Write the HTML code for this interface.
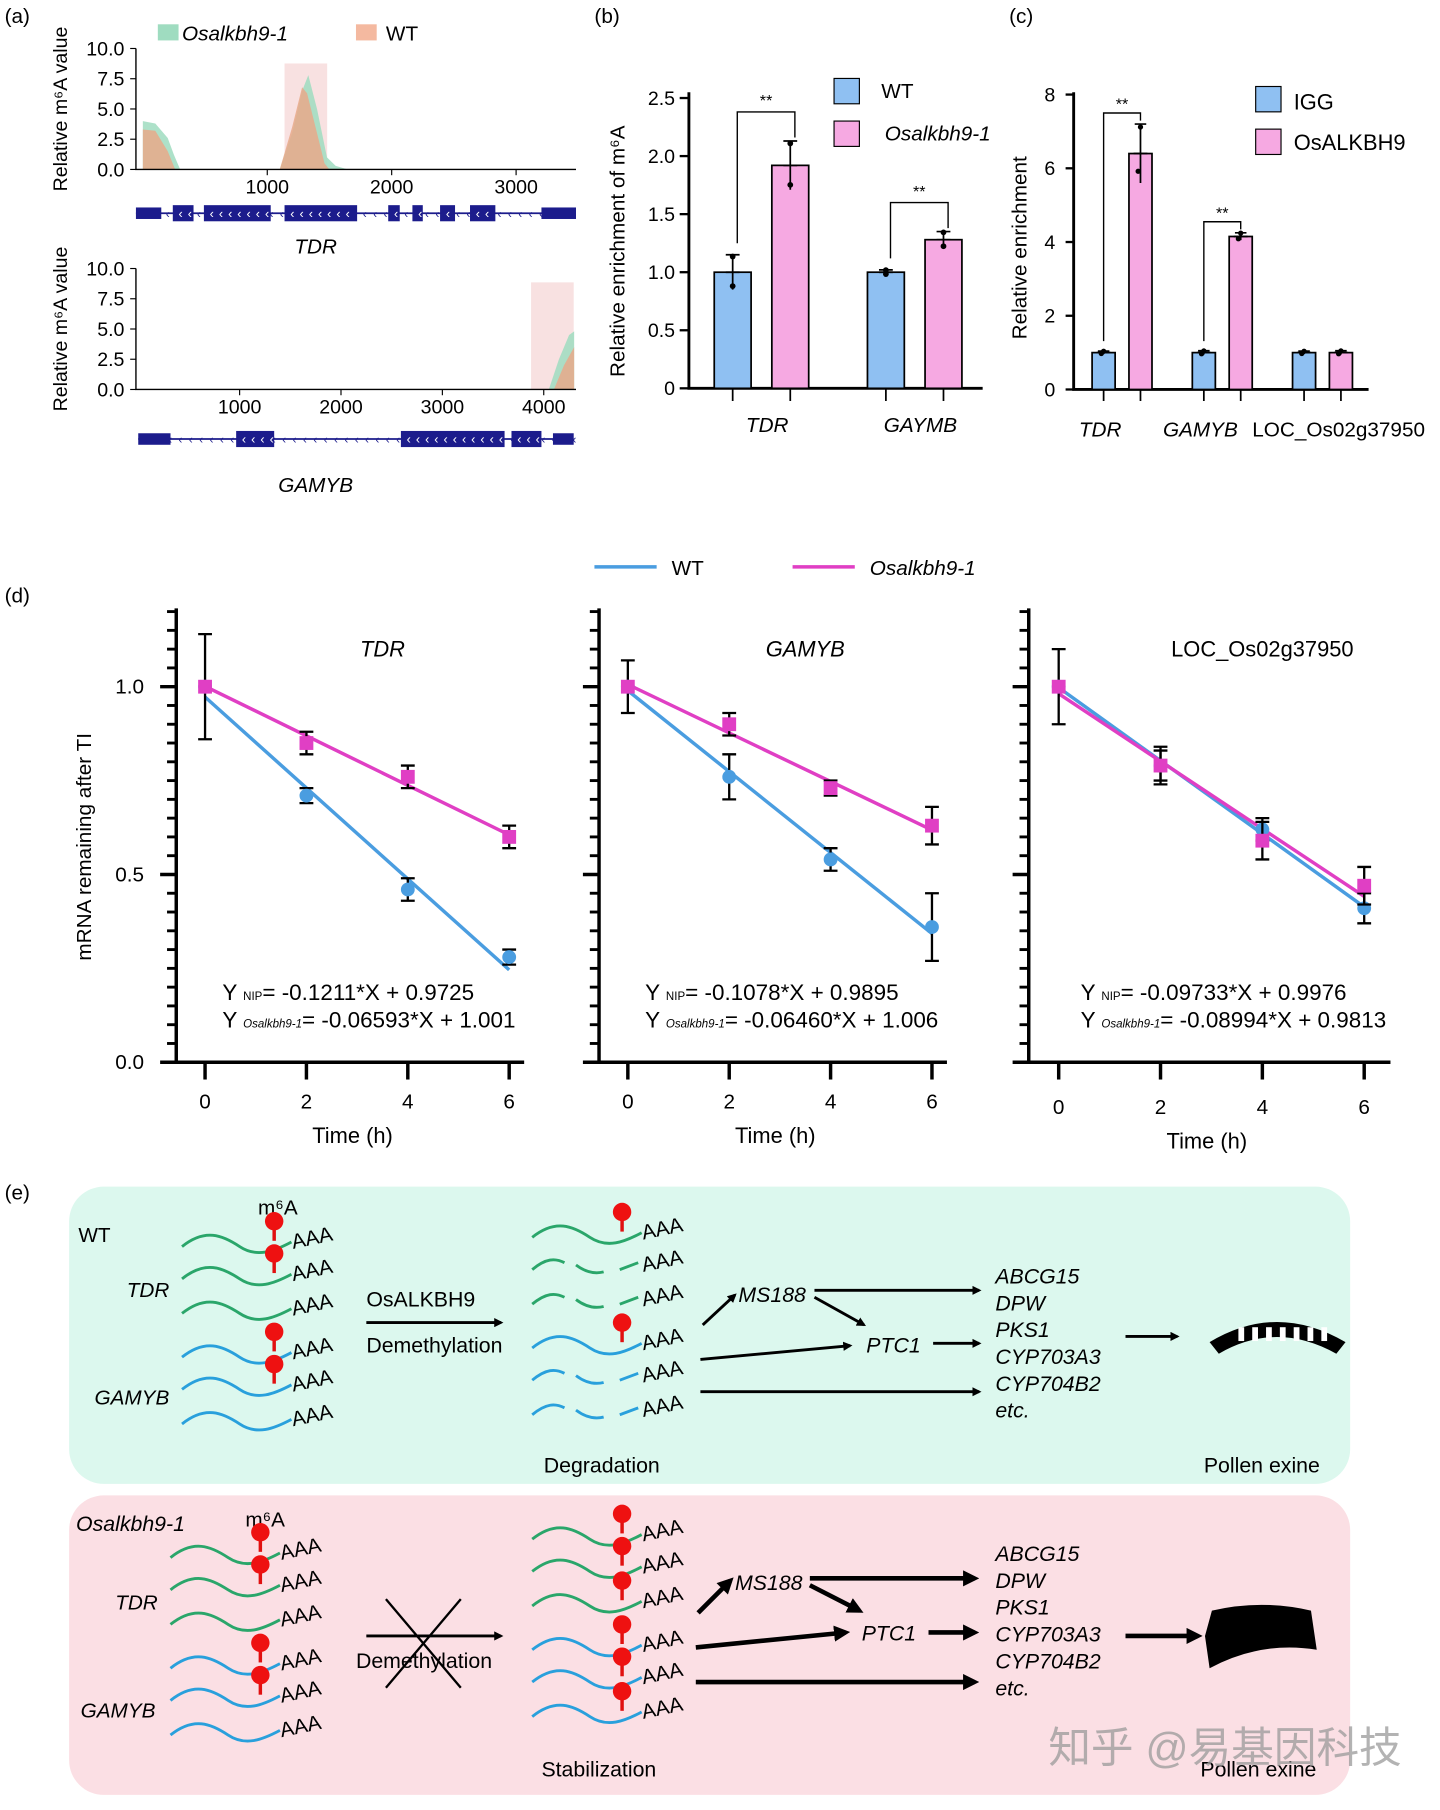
<!DOCTYPE html>
<html><head><meta charset="utf-8">
<style>
html,body{margin:0;padding:0;background:#fff;}
svg{display:block;font-family:"Liberation Sans","Noto Sans CJK SC",sans-serif;}
.it{font-style:italic;}
</style></head>
<body>
<svg id="fig" width="1440" height="1810" viewBox="0 0 1250 1571" xmlns="http://www.w3.org/2000/svg">
<g id="pa"></g>
<g id="pb"></g>
<g id="pc"></g>
<g id="pd"></g>
<g id="pe"></g>
</svg>
<script>
// ---------- data ----------
const tdrMut = [[0,4.0],[100,3.8],[200,2.6],[250,1.2],[300,0],[1100,0],[1200,3],[1280,6.5],[1330,7.8],[1400,5],[1480,1],[1550,0.3],[1650,0]];
const tdrWT  = [[0,3.3],[100,3.2],[200,1.5],[260,0],[1100,0],[1200,3.5],[1280,6.8],[1320,6.3],[1400,3],[1460,0.5],[1500,0]];
const gamMut = [[4050,0],[4150,2.5],[4250,4.5],[4300,4.8]];
const gamWT  = [[4100,0],[4200,2.0],[4300,3.5]];
const aYTicks = ["10.0","7.5","5.0","2.5","0.0"];
const aTopXTicks = [1000,2000,3000];
const aBotXTicks = [1000,2000,3000,4000];
const bGenes = ["TDR","GAYMB"];
const bWT = [1.0,1.0];
const bMut = [1.92,1.28];
const bWTerr = [0.15,0.02];
const bMutErr = [0.21,0.07];
const bYTicks = [0,0.5,1.0,1.5,2.0,2.5];
const cGenes = ["TDR","GAMYB","LOC_Os02g37950"];
const cIGG = [1.0,1.0,1.0];
const cOs = [6.4,4.15,1.0];
const cIGGerr = [0.04,0.05,0.04];
const cOsErr = [0.8,0.1,0.05];
const cYTicks = [0,2,4,6,8];
const dTitles = ["TDR","GAMYB","LOC_Os02g37950"];
const dTimes = [0,2,4,6];
const dWT = [[1.0,0.71,0.46,0.28],[1.0,0.76,0.54,0.36],[1.0,0.79,0.62,0.41]];
const dWTerr = [[0.14,0.02,0.03,0.02],[0.07,0.06,0.03,0.09],[0.1,0.05,0.03,0.04]];
const dMut = [[1.0,0.85,0.76,0.60],[1.0,0.90,0.73,0.63],[1.0,0.79,0.59,0.47]];
const dMutErr = [[0.0,0.03,0.03,0.03],[0.0,0.03,0.02,0.05],[0.0,0.04,0.05,0.05]];
const dWTslope = [-0.1211,-0.1078,-0.09733];
const dWTint = [0.9725,0.9895,0.9976];
const dMutSlope = [-0.06593,-0.06460,-0.08994];
const dMutInt = [1.001,1.006,0.9813];
const dWTeq = ["-0.1211*X + 0.9725","-0.1078*X + 0.9895","-0.09733*X + 0.9976"];
const dMutEq = ["-0.06593*X + 1.001","-0.06460*X + 1.006","-0.08994*X + 0.9813"];
const dYTicks = ["0.0","0.5","1.0"];

const NS="http://www.w3.org/2000/svg";
function el(parent,tag,attrs,text){const e=document.createElementNS(NS,tag);for(const k in attrs)e.setAttribute(k,attrs[k]);if(text!==undefined)e.textContent=text;parent.appendChild(e);return e;}
const BLUE="#8fc0f2",PINK="#f6a9e2",LBLUE="#4a9de0",LPINK="#e03fc4";

// ---------- panel a ----------
(function(){
const g=document.getElementById('pa');
let t=el(g,'text',{x:4,y:20,'font-size':18},'(a)');


let r=el(g,'rect',{x:137,y:21,width:18,height:14,fill:'#9fdcc0'});


t=el(g,'text',{x:158,y:35,'font-size':18,class:'it'},'Osalkbh9-1');


r=el(g,'rect',{x:309,y:21,width:18,height:14,fill:'#f4b9a0'});


t=el(g,'text',{x:335,y:35,'font-size':18},'WT');



function track(y0,y1,x0,pxPer,xTicks,mut,wt,hl,name){
  const yv=v=>y1-(y1-y0)*v/10;
  const xv=p=>x0+p*pxPer;
  const hr=el(g,'rect',{x:hl[0],y:hl[1],width:hl[2]-hl[0],height:y1-hl[1],fill:'#f8e1e1'});
  
  
  function area(d,fill,n){
    let s='M'+xv(d[0][0])+','+y1;
    d.forEach(p=>{s+=' L'+xv(p[0])+','+yv(p[1]);});
    s+=' L'+xv(d[d.length-1][0])+','+y1+'Z';
    const a=el(g,'path',{d:s,fill:fill,'fill-opacity':0.85});
    
    
  }
  area(mut,'#9fdcc0',name+'-mutant-area');
  area(wt,'#e8a98a',name+'-wt-area');
  const ax=el(g,'path',{d:`M118,${y0} L118,${y1} L500,${y1}`,fill:'none',stroke:'#000','stroke-width':1.2});
  
  
  aYTicks.forEach((lab,i)=>{
    const y=y0+(y1-y0)*i/4;
    el(g,'line',{x1:113,x2:118,y1:y,y2:y,stroke:'#000'});
    const tt=el(g,'text',{x:108,y:y+6,'font-size':17,'text-anchor':'end'},lab);
    
    
  });
  xTicks.forEach(v=>{
    const x=xv(v);
    el(g,'line',{x1:x,x2:x,y1:y1,y2:y1+5,stroke:'#000'});
    const tt=el(g,'text',{x:x,y:y1+21,'font-size':17,'text-anchor':'middle'},v);
    
    
  });
  const yl=el(g,'text',{x:0,y:0,'font-size':17,'text-anchor':'middle',transform:`translate(58,${(y0+y1)/2}) rotate(-90)`},'Relative m⁶A value');
  
  
}
track(42,147,124,0.108,aTopXTicks,tdrMut,tdrWT,[247,55,284],'tdr-track');
track(233,338,120,0.088,aBotXTicks,gamMut,gamWT,[461,245,498],'gamyb-track');

function gene(y,ends,exons,label,ly,name){
  const gg=el(g,'g',{});
  
  
  el(gg,'line',{x1:ends[0][0],x2:ends[1][1],y1:y,y2:y,stroke:'#1c1c8c','stroke-width':1.5});
  for(let x=ends[0][0]+8;x<ends[1][1];x+=9)el(gg,'text',{x:x,y:y+4,'font-size':10,fill:'#1c1c8c'},'‹');
  ends.forEach(e=>el(gg,'rect',{x:e[0],y:y-5,width:e[1]-e[0],height:10,fill:'#1c1c8c'}));
  exons.forEach(e=>{
    el(gg,'rect',{x:e[0],y:y-7,width:e[1]-e[0],height:14,fill:'#1c1c8c'});
    for(let x=e[0]+5;x<e[1]-3;x+=8)el(gg,'text',{x:x,y:y+4,'font-size':11,fill:'#fff'},'‹');
  });
  const tt=el(g,'text',{x:ends[0][0]+(ends[1][1]-ends[0][0])/2-35,y:ly,'font-size':18,class:'it','text-anchor':'middle'},label);
  
  
}
gene(185,[[118,140],[470,500]],[[150,168],[177,235],[247,310],[337,347],[358,367],[382,395],[408,430]],'TDR',220,'tdr-gene-model');
gene(381,[[120,148],[480,498]],[[205,238],[348,438],[444,470]],'GAMYB',427,'gamyb-gene-model');
})();

// ---------- panel b ----------
(function(){
const g=document.getElementById('pb');
const y0=337,pxU=(337-85)/2.5,yv=v=>y0-v*pxU;
let t=el(g,'text',{x:516,y:20,'font-size':18},'(b)');


const ax=el(g,'path',{d:`M598,80 L598,${y0} L853,${y0}`,fill:'none',stroke:'#000','stroke-width':2.5});


bYTicks.forEach(v=>{
  el(g,'line',{x1:590,x2:598,y1:yv(v),y2:yv(v),stroke:'#000','stroke-width':2});
  const tt=el(g,'text',{x:586,y:yv(v)+6,'font-size':17,'text-anchor':'end'},v===0?'0':v.toFixed(1));
  
  
});
const yl=el(g,'text',{x:0,y:0,'font-size':18,'text-anchor':'middle',transform:'translate(542,218) rotate(-90)'},'Relative enrichment of m⁶A');


const groupX=[636,769],bw=32;
bGenes.forEach((gn,i)=>{
  [[bWT,bWTerr,BLUE,0,'wt'],[bMut,bMutErr,PINK,50,'mutant']].forEach(s=>{
    const cx=groupX[i]+s[3],v=s[0][i],e=s[1][i];
    const b=el(g,'rect',{x:cx-bw/2,y:yv(v),width:bw,height:y0-yv(v),fill:s[2],stroke:'#000','stroke-width':1.5});
    
    
    el(g,'path',{d:`M${cx},${yv(v-e)} L${cx},${yv(v+e)} M${cx-6},${yv(v+e)} L${cx+6},${yv(v+e)} M${cx-6},${yv(v)} L${cx+6},${yv(v)}`,stroke:'#000','stroke-width':1.5});
    el(g,'circle',{cx:cx,cy:yv(v+e*0.9),r:2.5});el(g,'circle',{cx:cx,cy:yv(v-e*0.8),r:2.5});
    el(g,'line',{x1:cx,x2:cx,y1:y0,y2:y0+11,stroke:'#000','stroke-width':1.5});
  });
  const tt=el(g,'text',{x:groupX[i]+30,y:375,'font-size':18,class:'it','text-anchor':'middle'},gn);
  
  
  const top=yv(Math.max(bMut[i]+bMutErr[i],bWT[i]+bWTerr[i])+0.25);
  const br=el(g,'path',{d:`M${groupX[i]+4},${yv(bWT[i]+bWTerr[i])-10} L${groupX[i]+4},${top} L${groupX[i]+54},${top} L${groupX[i]+54},${yv(bMut[i]+bMutErr[i])-3}`,fill:'none',stroke:'#000','stroke-width':1.2});
  
  
  el(g,'text',{x:groupX[i]+29,y:top-5,'font-size':14,'text-anchor':'middle'},'**');
});
let r=el(g,'rect',{x:724,y:68,width:22,height:22,fill:BLUE,stroke:'#000'});


t=el(g,'text',{x:765,y:85,'font-size':18},'WT');


r=el(g,'rect',{x:724,y:105,width:22,height:22,fill:PINK,stroke:'#000'});


t=el(g,'text',{x:768,y:122,'font-size':18,class:'it'},'Osalkbh9-1');


})();

// ---------- panel c ----------
(function(){
const g=document.getElementById('pc');
const y0=338,pxU=(338-82)/8,yv=v=>y0-v*pxU;
let t=el(g,'text',{x:876,y:20,'font-size':18},'(c)');


const ax=el(g,'path',{d:`M932,80 L932,${y0} L1188,${y0}`,fill:'none',stroke:'#000','stroke-width':2.5});


cYTicks.forEach(v=>{
  el(g,'line',{x1:925,x2:932,y1:yv(v),y2:yv(v),stroke:'#000','stroke-width':2});
  const tt=el(g,'text',{x:916,y:yv(v)+6,'font-size':17,'text-anchor':'end'},v);
  
  
});
const yl=el(g,'text',{x:0,y:0,'font-size':18,'text-anchor':'middle',transform:'translate(891,215) rotate(-90)'},'Relative enrichment');


const groupX=[958,1045,1132],bw=20,labX=[955,1042,1162];
cGenes.forEach((gn,i)=>{
  [[cIGG,cIGGerr,BLUE,0,'igg'],[cOs,cOsErr,PINK,32,'osalkbh9']].forEach(s=>{
    const cx=groupX[i]+s[3],v=s[0][i],e=s[1][i];
    const b=el(g,'rect',{x:cx-bw/2,y:yv(v),width:bw,height:y0-yv(v),fill:s[2],stroke:'#000','stroke-width':1.5});
    
    
    el(g,'path',{d:`M${cx},${yv(v-e)} L${cx},${yv(v+e)} M${cx-5},${yv(v+e)} L${cx+5},${yv(v+e)} M${cx-6},${yv(v)} L${cx+6},${yv(v)}`,stroke:'#000','stroke-width':1.5});
    el(g,'circle',{cx:cx,cy:yv(v+e*0.9),r:2.3});el(g,'circle',{cx:cx-2,cy:yv(v-e*0.6),r:2.3});
    el(g,'line',{x1:cx,x2:cx,y1:y0,y2:y0+10,stroke:'#000','stroke-width':1.5});
  });
  const tt=el(g,'text',{x:labX[i],y:379,'font-size':18,'text-anchor':'middle',class:i<2?'it':''},gn);
  
  
  if(cOs[i]/cIGG[i]>2){
    const top=yv(cOs[i]+cOsErr[i]+0.3);
    const br=el(g,'path',{d:`M${groupX[i]},${yv(cIGG[i])-10} L${groupX[i]},${top} L${groupX[i]+32},${top} L${groupX[i]+32},${yv(cOs[i]+cOsErr[i])-3}`,fill:'none',stroke:'#000','stroke-width':1.2});
    
    
    el(g,'text',{x:groupX[i]+16,y:top-3,'font-size':14,'text-anchor':'middle'},'**');
  }
});
let r=el(g,'rect',{x:1090,y:75,width:22,height:22,fill:BLUE,stroke:'#000'});


t=el(g,'text',{x:1123,y:95,'font-size':19},'IGG');


r=el(g,'rect',{x:1090,y:112,width:22,height:22,fill:PINK,stroke:'#000'});


t=el(g,'text',{x:1123,y:130,'font-size':19},'OsALKBH9');


})();

// ---------- panel d ----------
(function(){
const g=document.getElementById('pd');
let t=el(g,'text',{x:4,y:523,'font-size':18},'(d)');


let l=el(g,'line',{x1:516,x2:570,y1:492,y2:492,stroke:LBLUE,'stroke-width':3});


t=el(g,'text',{x:583,y:499,'font-size':18},'WT');


l=el(g,'line',{x1:688,x2:742,y1:492,y2:492,stroke:LPINK,'stroke-width':3});


t=el(g,'text',{x:755,y:499,'font-size':18,class:'it'},'Osalkbh9-1');


const yl=el(g,'text',{x:0,y:0,'font-size':18,'text-anchor':'middle',transform:'translate(79,735) rotate(-90)'},'mRNA remaining after TI');


const axX=[153,520,893],x0s=[178,545,919],pxH=[44,44,44.2],axEnd=[455,822,1207],labY=[962,962,967];
const yB=922,pxV=(922-596)/1.0,yv=v=>yB-v*pxV;
dTitles.forEach((title,k)=>{
  const sg=el(g,'g',{});
  
  
  const xv=h=>x0s[k]+h*pxH[k];
  const ax=el(sg,'path',{d:`M${axX[k]},528 L${axX[k]},${yB} L${axEnd[k]},${yB}`,fill:'none',stroke:'#000','stroke-width':3});
  
  
  for(let v=0;v<=1.2001;v+=0.05){
    const major=Math.abs(v*2-Math.round(v*2))<1e-6;
    el(sg,'line',{x1:axX[k]-(major?14:8),x2:axX[k],y1:yv(v),y2:yv(v),stroke:'#000','stroke-width':major?3:2.5});
  }
  if(k===0)dYTicks.forEach((lab,i)=>{
    const tt=el(sg,'text',{x:125,y:yv(i*0.5)+6,'font-size':18,'text-anchor':'end'},lab);
    
    
  });
  dTimes.forEach(h=>{
    el(sg,'line',{x1:xv(h),x2:xv(h),y1:yB,y2:yB+15,stroke:'#000','stroke-width':3});
    const tt=el(sg,'text',{x:xv(h),y:labY[k],'font-size':18,'text-anchor':'middle'},h);
    
    
  });
  const xt=el(sg,'text',{x:(xv(0)+xv(6))/2-4,y:labY[k]+30,'font-size':19,'text-anchor':'middle'},'Time (h)');
  
  
  const tt=el(sg,'text',{x:k===2?xv(4):xv(3.5),y:570,'font-size':19,'text-anchor':'middle',class:k<2?'it':''},title);
  
  
  [[dWT,dWTerr,dWTslope,dWTint,LBLUE,'wt'],[dMut,dMutErr,dMutSlope,dMutInt,LPINK,'mutant']].forEach(s=>{
    const fl=el(sg,'line',{x1:xv(0),y1:yv(s[3][k]),x2:xv(6),y2:yv(s[3][k]+6*s[2][k]),stroke:s[4],'stroke-width':3});
    
    
  });
  [[dWT,dWTerr,LBLUE,'wt'],[dMut,dMutErr,LPINK,'mutant']].forEach(s=>{
    dTimes.forEach((h,i)=>{
      const v=s[0][k][i],e=s[1][k][i],x=xv(h);
      if(e>0)el(sg,'path',{d:`M${x},${yv(v-e)} L${x},${yv(v+e)} M${x-6},${yv(v-e)} L${x+6},${yv(v-e)} M${x-6},${yv(v+e)} L${x+6},${yv(v+e)}`,stroke:'#000','stroke-width':2});
      let m;
      if(s[3]==='wt')m=el(sg,'circle',{cx:x,cy:yv(v),r:6,fill:s[2]});
      else m=el(sg,'rect',{x:x-6,y:yv(v)-6,width:12,height:12,fill:s[2]});
      
      
    });
  });
  const ex=xv(0)+15+(k===2?4:0);
  const e1=el(sg,'text',{x:ex,y:868,'font-size':19.5},'');
  
  
  el(e1,'tspan',{},'Y ');el(e1,'tspan',{'font-size':10},'NIP');el(e1,'tspan',{},'= '+dWTeq[k]);
  const e2=el(sg,'text',{x:ex,y:892,'font-size':19.5},'');
  
  
  el(e2,'tspan',{},'Y ');el(e2,'tspan',{'font-size':10,'font-style':'italic'},'Osalkbh9-1');el(e2,'tspan',{},'= '+dMutEq[k]);
});
})();

// ---------- panel e ----------
(function(){
const g=document.getElementById('pe');
let t=el(g,'text',{x:4,y:1041,'font-size':18},'(e)');


el(g,'defs',{}).innerHTML='<marker id="ah" markerWidth="8" markerHeight="8" refX="6" refY="4" orient="auto" markerUnits="userSpaceOnUse"><path d="M0,0 L8,4 L0,8 Z"/></marker><marker id="ah2" markerWidth="14" markerHeight="14" refX="10" refY="7" orient="auto" markerUnits="userSpaceOnUse"><path d="M0,0 L14,7 L0,14 Z"/></marker>';
function box(y,h,fill,name){const r=el(g,'rect',{x:60,y:y,width:1112,height:h,rx:30,fill:fill});}
box(1030,258,'#dcf8ee','wt-model-box');
box(1298,260,'#fbdfe4','mutant-model-box');
function wave(x,y,col,broken){
  if(broken){
    el(g,'path',{d:`M${x},${y} C${x+12},${y-10} ${x+20},${y-10} ${x+28},${y-6}`,fill:'none',stroke:col,'stroke-width':2.5});
    el(g,'path',{d:`M${x+38},${y-4} C${x+46},${y+2} ${x+54},${y+4} ${x+62},${y+2}`,fill:'none',stroke:col,'stroke-width':2.5});
    el(g,'path',{d:`M${x+76},${y} L${x+92},${y-6}`,fill:'none',stroke:col,'stroke-width':2.5});
  } else el(g,'path',{d:`M${x},${y} C${x+20},${y-16} ${x+35},${y-10} ${x+50},${y} S${x+80},${y+4} ${x+95},${y-4}`,fill:'none',stroke:col,'stroke-width':2.5});
  el(g,'text',{x:x+96,y:y+2,'font-size':18,transform:`rotate(-12 ${x+96} ${y})`},'AAA');
}
function pin(x,y){el(g,'line',{x1:x,x2:x,y1:y-14,y2:y-1,stroke:'#e01010','stroke-width':3});el(g,'circle',{cx:x,cy:y-18,r:8,fill:'#ee1111'});}
function txt(x,y,s,cls,size,name){const e=el(g,'text',{x:x,y:y,'font-size':size||18,class:cls||''},s);return e;}
function arr(x1,y1,x2,y2,thick){el(g,'line',{x1:x1,y1:y1,x2:x2,y2:y2,stroke:'#000','stroke-width':thick?4:2.5,'marker-end':thick?'url(#ah2)':'url(#ah)'});}
const G='#2aa66a',B='#29a0dc';
txt(68,1078,'WT','',18,'wt-box-title');
txt(224,1054,'m⁶A','',18,'m6a-label');
txt(110,1126,'TDR','it',18,'tdr-label');
txt(82,1219,'GAMYB','it',18,'gamyb-label');
[1082,1110,1140].forEach((y,i)=>{wave(158,y,G);if(i<2)pin(238,y-4);});
[1178,1206,1236].forEach((y,i)=>{wave(158,y,B);if(i<2)pin(238,y-4);});
txt(318,1134,'OsALKBH9','',18.5,'osalkbh9-label');
arr(318,1148,435,1148);
txt(318,1174,'Demethylation','',18.5,'demethylation-label');
[1074,1102,1132].forEach((y,i)=>{wave(462,y,G,i>0);if(i===0)pin(540,y-4);});
[1170,1198,1228].forEach((y,i)=>{wave(462,y,B,i>0);if(i===0)pin(540,y-4);});
txt(472,1278,'Degradation','',18.5,'degradation-label');
arr(610,1150,638,1124);
txt(641,1130,'MS188','it',18.5,'ms188-label');
arr(707,1120,850,1120);arr(707,1126,750,1150);
txt(752,1174,'PTC1','it',18.5,'ptc1-label');
arr(810,1166,850,1166);arr(608,1180,738,1168);arr(608,1208,850,1208);
['ABCG15','DPW','PKS1','CYP703A3','CYP704B2','etc.'].forEach((s,i)=>txt(864,1114+i*23.3,s,'it',18.5,'target-gene-label'));
arr(977,1160,1022,1160);
el(g,'path',{d:'M1050,1165 Q1108,1130 1168,1165 L1160,1175 Q1108,1146 1058,1175 Z',fill:'#000'});
for(let x=1075;x<1150;x+=12)el(g,'rect',{x:x,y:1152,width:5,height:12,fill:'#fff'});
txt(1045,1278,'Pollen exine','',18.5,'pollen-exine-label');
txt(66,1329,'Osalkbh9-1','it',18.5,'mutant-box-title');
txt(213,1325,'m⁶A','',18,'m6a-label');
txt(100,1397,'TDR','it',18,'tdr-label');
txt(70,1491,'GAMYB','it',18,'gamyb-label');
[1352,1380,1410].forEach((y,i)=>{wave(148,y,G);if(i<2)pin(226,y-4);});
[1448,1476,1506].forEach((y,i)=>{wave(148,y,B);if(i<2)pin(226,y-4);});
arr(318,1420,435,1420);
el(g,'path',{d:'M335,1388 L400,1465 M400,1388 L335,1465',stroke:'#000','stroke-width':2});
txt(309,1448,'Demethylation','',18.5,'demethylation-label');
[1336,1364,1394,1432,1460,1490].forEach((y,i)=>{wave(462,y,i<3?G:B);pin(540,y-4);});
txt(470,1542,'Stabilization','',18.5,'stabilization-label');
arr(606,1400,634,1372,true);
txt(638,1380,'MS188','it',18.5,'ms188-label');
arr(703,1370,846,1370,true);arr(703,1376,746,1398,true);
txt(748,1424,'PTC1','it',18.5,'ptc1-label');
arr(806,1417,846,1417,true);arr(604,1430,734,1417,true);arr(604,1460,846,1460,true);
['ABCG15','DPW','PKS1','CYP703A3','CYP704B2','etc.'].forEach((s,i)=>txt(864,1355+i*23.3,s,'it',18.5,'target-gene-label'));
arr(977,1420,1040,1420,true);
el(g,'path',{d:'M1052,1398 Q1095,1388 1138,1398 L1143,1432 Q1095,1424 1050,1448 L1046,1420 Z',fill:'#000'});
txt(1042,1542,'Pollen exine','',18.5,'pollen-exine-label');
const w=el(g,'text',{x:910,y:1530,'font-size':37,fill:'#9a9a9a','fill-opacity':0.75},'知乎 @易基因科技');


})();
</script>
</body></html>
